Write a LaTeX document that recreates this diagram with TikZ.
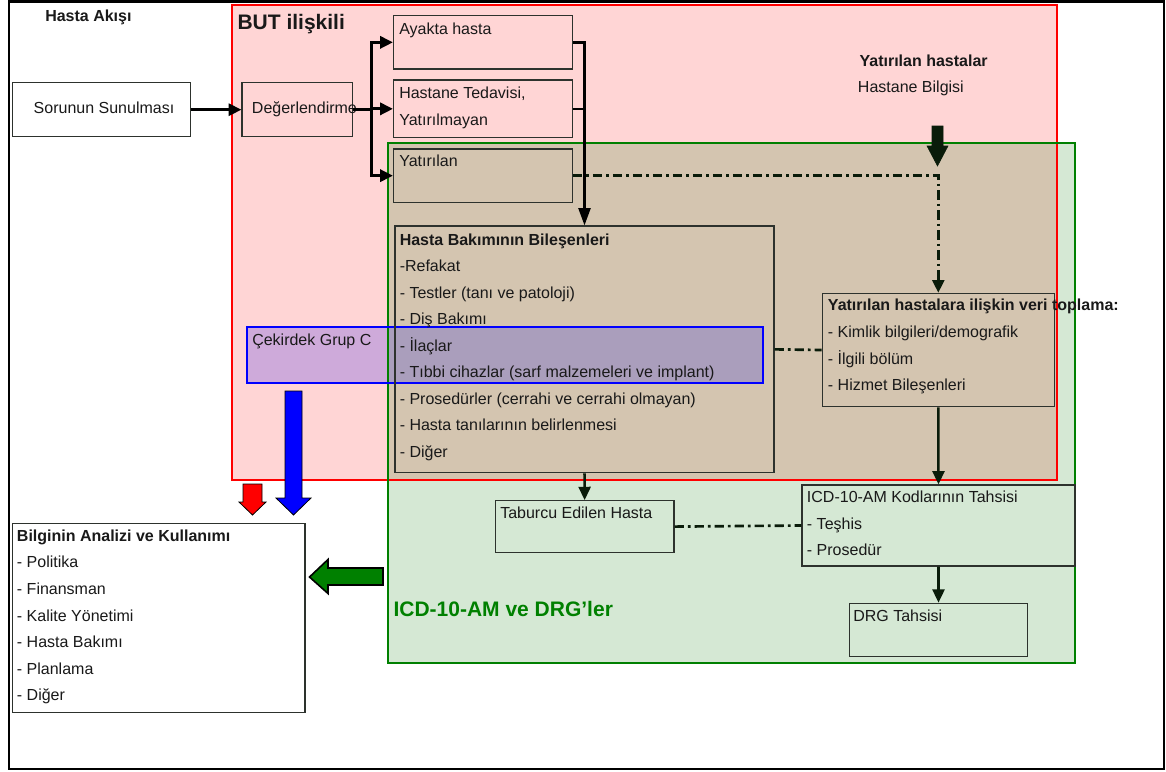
\documentclass[tikz,border=0pt]{standalone}
\usepackage{fontspec}
\setmainfont{Liberation Sans}
\usetikzlibrary{arrows.meta,fit}
\definecolor{pinkbg}{RGB}{255,213,213}
\definecolor{greenbg}{RGB}{213,232,212}
\definecolor{tanbg}{RGB}{212,197,176}
\definecolor{lavA}{RGB}{206,170,218}
\definecolor{lavB}{RGB}{170,158,188}
\definecolor{redline}{RGB}{255,0,0}
\definecolor{greenline}{RGB}{0,128,0}
\definecolor{blueline}{RGB}{0,0,255}
\definecolor{boxcol}{RGB}{45,50,45}
\definecolor{darkarr}{RGB}{10,28,10}
\definecolor{gtext}{RGB}{0,128,0}
\newcommand{\fs}{\fontsize{12}{14}\selectfont}
\newcommand{\fl}{\fontsize{15.75}{18}\selectfont\bfseries}
\begin{document}
\begin{tikzpicture}[x=0.75pt,y=-0.75pt,
  box/.style={draw=boxcol, line width=0.9pt, inner sep=0pt},
  txt/.style={anchor=base west, inner sep=0pt, font=\fs, text=black!90},
  btxt/.style={anchor=base west, inner sep=0pt, font=\fs\bfseries, text=black!90},
  line/.style={line width=2.1pt, draw=black},
  arr/.style={line width=2.1pt, draw=black, -{Triangle[length=9.5pt,width=9pt]}},
  darr/.style={line width=1.9pt, draw=darkarr, -{Triangle[length=10pt,width=9pt]}},
  dd/.style={line width=2pt, draw=darkarr, dash pattern=on 7pt off 3pt on 2pt off 3pt},
  blockarr/.style={draw=black, line width=0.6pt}
]
\useasboundingbox (0,0) rectangle (1166,771);
% outer frame
\draw[line width=1.5pt, black] (9,1.5) rectangle (1164,769);
% backgrounds
\fill[pinkbg] (232,5) rectangle (1057,480);
\fill[greenbg] (388,143) rectangle (1075,663);
\fill[tanbg] (388,143) rectangle (1057,480);
\fill[lavA] (247,327) rectangle (388,383);
\fill[lavB] (388,327) rectangle (763,383);
\draw[redline, line width=1.6pt] (232,5) rectangle (1057,480);
\draw[greenline, line width=1.6pt] (388,143) rectangle (1075,663);
\draw[blueline, line width=1.8pt] (247,327) rectangle (763,383);

% boxes
\node[box, fill=white, fit={(12.3,82.7) (190.7,136.7)}] (sorunun) {};
\node[box, fit={(242,82.7) (352.3,136.7)}] (deger) {};
\node[box, fit={(393.5,15.7) (572.3,69)}] (ayakta) {};
\node[box, fit={(393.5,80) (572.3,137.7)}] (hastane) {};
\node[box, fit={(393.5,149) (572.3,202.3)}] (yatir) {};
\node[box, fit={(395,226) (774,472.7)}] (bilesen) {};
\node[box, fit={(822.3,293.3) (1054.3,406.7)}] (veri) {};
\node[box, fit={(495.3,500.7) (674,552.5)}] (taburcu) {};
\node[box, fit={(802,485) (1075,566)}] (icd) {};
\node[box, fit={(849.3,603.3) (1027.7,656.7)}] (drg) {};
\node[box, fill=white, fit={(12.3,523.3) (305,712.3)}] (bilgi) {};

% texts
\node[btxt] (tAkis) at (45,21.7) {Hasta Akışı};
\node[anchor=base west, inner sep=0pt, font=\fl, text=black!90] (tBut) at (237.3,29.3) {BUT ilişkili};
\node[txt, anchor=base] (tSor) at (104,113.3) {Sorunun Sunulması};
\node[txt] (tDeg) at (251.7,113.3) {Değerlendirme};
\node[txt] (tAy) at (399,34.5) {Ayakta hasta};
\node[txt] (tHa1) at (399,98.5) {Hastane Tedavisi,};
\node[txt] (tHa2) at (399,125) {Yatırılmayan};
\node[txt] (tYat) at (399,166.7) {Yatırılan};
\node[btxt] (tYh) at (859.3,66.7) {Yatırılan hastalar};
\node[txt] (tHb) at (857.7,92.7) {Hastane Bilgisi};
\node[btxt] (tB0) at (399.5,245) {Hasta Bakımının Bileşenleri};
\node[txt] (tB1) at (399.5,271.5) {-Refakat};
\node[txt] (tB2) at (399.5,298) {- Testler (tanı ve patoloji)};
\node[txt] (tB3) at (399.5,324.5) {- Diş Bakımı};
\node[txt] (tB4) at (399.5,351) {- İlaçlar};
\node[txt] (tB5) at (399.5,377.5) {- Tıbbi cihazlar (sarf malzemeleri ve implant)};
\node[txt] (tB6) at (399.5,404) {- Prosedürler (cerrahi ve cerrahi olmayan)};
\node[txt] (tB7) at (399.5,430.5) {- Hasta tanılarının belirlenmesi};
\node[txt] (tB8) at (399.5,457) {- Diğer};
\node[txt] (tCek) at (252,345) {Çekirdek Grup C};
\node[btxt] (tV0) at (827.7,310.7) {Yatırılan hastalara ilişkin veri toplama:};
\node[txt] (tV1) at (827.7,337.3) {- Kimlik bilgileri/demografik};
\node[txt] (tV2) at (827.7,364) {- İlgili bölüm};
\node[txt] (tV3) at (827.7,390.7) {- Hizmet Bileşenleri};
\node[txt] (tI0) at (806.7,502.3) {ICD-10-AM Kodlarının Tahsisi};
\node[txt] (tI1) at (806.7,529) {- Teşhis};
\node[txt] (tI2) at (806.7,555.5) {- Prosedür};
\node[txt] (tTab) at (500,518.3) {Taburcu Edilen Hasta};
\node[txt] (tDrg) at (853,621.7) {DRG Tahsisi};
\node[anchor=base west, inner sep=0pt, font=\fl, text=gtext] (tIcdDrg) at (393.3,616.7) {ICD-10-AM ve DRG’ler};
\node[btxt] (tL0) at (16.7,541.7) {Bilginin Analizi ve Kullanımı};
\node[txt] (tL1) at (16.7,567.7) {- Politika};
\node[txt] (tL2) at (16.7,594.3) {- Finansman};
\node[txt] (tL3) at (16.7,621) {- Kalite Yönetimi};
\node[txt] (tL4) at (16.7,647.7) {- Hasta Bakımı};
\node[txt] (tL5) at (16.7,674) {- Planlama};
\node[txt] (tL6) at (16.7,700.3) {- Diğer};

% connectors
\draw[arr] (sorunun.east) -- (deger.west);
\draw[line] (deger.east) -- ++(18.7,0) coordinate (br);
\draw[line, line cap=rect] (ayakta.west -| br) -- (yatir.west -| br);
\draw[arr] (ayakta.west -| br) -- (ayakta.west);
\draw[arr] (hastane.west -| br) -- (hastane.west);
\draw[arr] (yatir.west -| br) -- (yatir.west);
\draw[line width=1.8pt, draw=black, -{Triangle[length=13pt,width=9pt]}] (ayakta.east) -| (bilesen.north);
\draw[line width=1.8pt] (hastane.east) -- (hastane.east -| bilesen.north);
\draw[dd, -{Triangle[length=9.5pt,width=9pt]}] (yatir.east) -| (veri.north);
\draw[dd] (bilesen.east) -- (veri.west);
\draw[darr] (bilesen.south) -- (taburcu.north);
\draw[darr] (veri.south) -- (icd.north);
\draw[darr] (icd.south) -- (drg.north);
\draw[dd] (taburcu.east) -- (icd.west);

% block arrows
\filldraw[fill=darkarr, draw=darkarr, line width=0.4pt]
  (932,126) -- (943,126) -- (943,146) -- (948,146) -- (937.5,166) -- (927,146) -- (932,146) -- cycle;
\filldraw[fill=redline, blockarr]
  (243,484) -- (262,484) -- (262,502) -- (266,502) -- (252.5,515) -- (239,502) -- (243,502) -- cycle;
\filldraw[fill=blueline, blockarr]
  (285,391) -- (302,391) -- (302,498) -- (311,498) -- (293.5,515) -- (276,498) -- (285,498) -- cycle;
\filldraw[fill=greenline, draw=black, line width=1.2pt]
  (383,568) -- (328,568) -- (328,559.5) -- (309.5,577) -- (328,593.5) -- (328,585) -- (383,585) -- cycle;
\end{tikzpicture}
\end{document}
